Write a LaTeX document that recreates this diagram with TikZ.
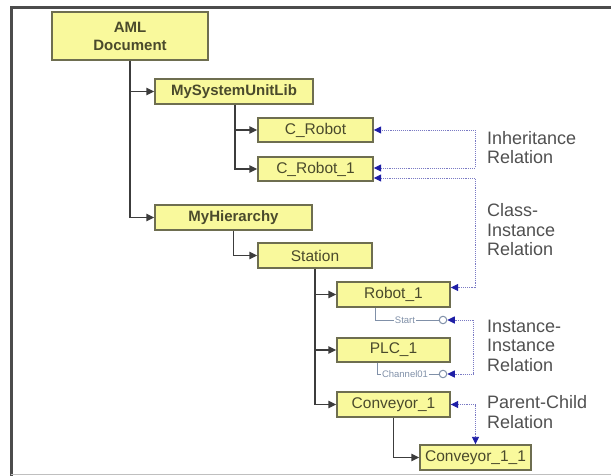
\documentclass[tikz,border=0pt]{standalone}
\usepackage{fontspec}
\setmainfont{Liberation Sans}
\usetikzlibrary{arrows.meta}
\definecolor{boxfill}{HTML}{F9F99C}
\definecolor{boxline}{HTML}{6E6E50}
\definecolor{boxtext}{HTML}{4A4A2C}
\definecolor{treeline}{HTML}{3C3C3C}
\definecolor{relline}{HTML}{7A7AC4}
\definecolor{reltip}{HTML}{1E1EA6}
\definecolor{portline}{HTML}{8090A8}
\definecolor{labeltext}{HTML}{505050}
\tikzset{
  elem/.style={draw=boxline, line width=1.4pt, fill=boxfill, text=boxtext,
    inner sep=0pt, minimum height=25pt, font=\fontsize{15.5}{18}\selectfont},
  belem/.style={elem, font=\fontsize{15}{18}\selectfont\bfseries},
  tree/.style={draw=treeline, line width=1.4pt,
    -{Triangle[length=8pt,width=7.5pt]}},
  trunk/.style={draw=treeline, line width=1.4pt},
  rel/.style={draw=relline, line width=0.9pt, densely dotted,
    {Triangle[length=7.5pt,width=7pt,fill=reltip,color=reltip]}-{Triangle[length=7.5pt,width=7pt,fill=reltip,color=reltip]}},
  port/.style={draw=portline, line width=0.9pt},
  portlabel/.style={text=portline, inner sep=1pt, font=\fontsize{9.5}{11}\selectfont},
  pin/.style={circle, draw=portline, line width=1pt, fill=white,
    minimum size=7.5pt, inner sep=0pt},
  note/.style={text=labeltext, align=left, anchor=west, inner sep=0pt,
    font=\fontsize{18}{19.5}\selectfont},
}
\begin{document}
\begin{tikzpicture}[x=1pt, y=-1pt]
\useasboundingbox (0,0) rectangle (611,476);
% frame
\draw[line width=3pt, draw=black!70] (11,476) -- (11,8) -- (611,8);
\draw[line width=1pt, draw=black!25] (11,474) -- (611,474);

% elements
\node[belem, minimum width=156pt, minimum height=48pt, align=center,
  font=\fontsize{15}{18}\selectfont\bfseries] (aml) at (130,36) {AML\\Document};
\node[belem, minimum width=158pt] (msul) at (234,91.5) {MySystemUnitLib};
\node[elem, minimum width=115pt, minimum height=24pt] (cr) at (315.5,130) {C\_Robot};
\node[elem, minimum width=115pt, minimum height=24pt] (cr1) at (315.5,169) {C\_Robot\_1};
\node[belem, minimum width=157pt] (mh) at (233.5,217.5) {MyHierarchy};
\node[elem, minimum width=114pt] (st) at (315,255.5) {Station};
\node[elem, minimum width=113pt] (r1) at (393.5,294.5) {Robot\_1};
\node[elem, minimum width=113pt, minimum height=24pt] (plc) at (393.5,350) {PLC\_1};
\node[elem, minimum width=113pt] (c1) at (393.5,404.5) {Conveyor\_1};
\node[elem, minimum width=111pt] (c11) at (475.5,457.5) {Conveyor\_1\_1};

% hierarchy: each trunk drawn once to its last child, the others branch off it
\draw[tree] (aml.south) |- (mh.west);
\draw[tree] (aml.south |- msul.west) -- (msul.west);
\draw[tree] ([xshift=1pt]msul.south) |- (cr1.west);
\draw[tree] ([xshift=1pt]msul.south |- cr.west) -- (cr.west);
\draw[tree] (mh.south) |- (st.west);
\draw[tree] (st.south) |- (c1.west);
\draw[tree] (st.south |- r1.west) -- (r1.west);
\draw[tree] (st.south |- plc.west) -- (plc.west);
\draw[tree] (c1.south) |- (c11.west);

% interfaces
\node[portlabel] (start) at (405,320) {Start};
\node[pin] (p1) at (443,320) {};
\node[portlabel] (chan) at (405,374) {Channel01};
\node[pin] (p2) at (443,374) {};
\draw[port] ([xshift=-18.5pt]r1.south) |- (start.west);
\draw[port] (start.east) -- (p1.west);
\draw[port] ([xshift=-16.5pt]plc.south) |- (chan.west);
\draw[port] (chan.east) -- (p2.west);

% relations
\coordinate (xr) at (475,0);
\draw[rel] ([yshift=1pt]cr1.east) -- ([yshift=1pt]cr1.east -| xr) |- (cr.east);
\draw[rel] ([yshift=-9pt]cr1.east) -- ([yshift=-9pt]cr1.east -| xr) |- ([yshift=7pt]r1.east);
\draw[rel] (p1.east) -- ++(26,0) |- (p2.east);
\draw[rel] (c1.east) -| (c11.north);

% legend texts
\node[note] (l1) at (487,147.5) {Inheritance\\Relation};
\node[note] (l2) at (487,230) {Class-\\Instance\\Relation};
\node[note] (l3) at (487,345.5) {Instance-\\Instance\\Relation};
\node[note] (l4) at (487,412) {Parent-Child\\Relation};
\end{tikzpicture}
\end{document}
